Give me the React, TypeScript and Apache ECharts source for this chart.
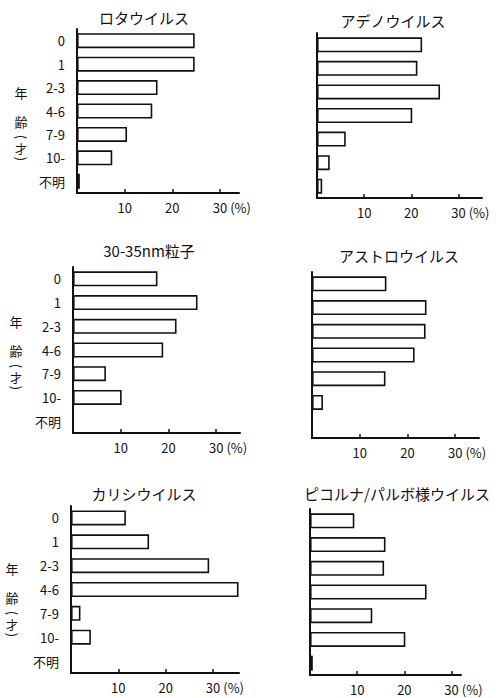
import React, { useEffect, useRef } from "react";
import * as echarts from "echarts";

const ages = ["0", "1", "2-3", "4-6", "7-9", "10-", "不明"];
const titles = [
  "ロタウイルス",
  "アデノウイルス",
  "30-35nm粒子",
  "アストロウイルス",
  "カリシウイルス",
  "ピコルナ/パルボ様ウイルス",
];
const rota = [24.7, 24.7, 16.9, 15.8, 10.5, 7.4, 0.6];
const adeno = [22.3, 21.3, 26.1, 20.2, 6.1, 2.7, 1.1];
const particle = [17.7, 26.1, 21.7, 18.9, 6.9, 10.2, 0];
const astro = [15.6, 24.0, 23.8, 21.5, 15.4, 2.3, 0];
const calici = [11.6, 16.5, 29.2, 35.4, 2.0, 4.2, 0];
const picorna = [9.4, 16.0, 15.7, 24.7, 13.2, 20.2, 0.6];
const xTicks = [10, 20, 30];
const ageTitle = ["年", "齢", "(", "才", ")"];

const seriesData = [rota, adeno, particle, astro, calici, picorna];

// layout of the six panels (pixels)
const panels = [
  { left: 77, top: 29, width: 162, height: 164, max: 34, tx: 144, ty: 17, ax: 21, ay: 92 },
  { left: 317, top: 33, width: 165, height: 165, max: 35, tx: 393, ty: 20 },
  { left: 73, top: 267, width: 167, height: 166, max: 35, tx: 149, ty: 250, ax: 16, ay: 321 },
  { left: 312, top: 272, width: 167, height: 166, max: 35, tx: 399, ty: 255 },
  { left: 71, top: 506, width: 168, height: 167, max: 35.5, tx: 144, ty: 493, ax: 12, ay: 568 },
  { left: 310, top: 509, width: 151, height: 166, max: 32, tx: 397, ty: 493 },
];

const FONT = "'Noto Sans CJK JP', 'Noto Sans', sans-serif";
const INK = "#111111";

export default function App() {
  const ref = useRef<HTMLDivElement>(null);
  useEffect(() => {
    if (!ref.current) return;
    const chart = echarts.init(ref.current, null, { renderer: "svg" });

    const grid = panels.map((p) => ({
      left: p.left,
      top: p.top,
      width: p.width,
      height: p.height,
      containLabel: false,
      outerBoundsMode: "none",
    }));

    const xAxis = panels.map((p, i) => ({
      type: "value",
      gridIndex: i,
      min: 0,
      max: p.max,
      splitLine: { show: false },
      axisLine: { show: true, lineStyle: { color: INK, width: 2 } },
      axisTick: {
        show: true,
        inside: true,
        length: 4,
        customValues: xTicks,
        lineStyle: { color: INK, width: 1.5 },
      },
      axisLabel: {
        customValues: xTicks,
        margin: 8,
        color: INK,
        fontSize: 13,
        fontFamily: FONT,
        formatter: (v: number) =>
          v === 30 ? "{s| }{n|30}{p| (%)}" : "{n|" + v + "}",
        rich: {
          n: { fontSize: 13, fontFamily: FONT, color: INK },
          s: { width: 24, fontSize: 13 },
          p: { width: 24, fontSize: 13, fontFamily: FONT, color: INK, align: "left" },
        },
      },
    }));

    const yAxis = panels.map((p, i) => ({
      type: "category",
      gridIndex: i,
      data: ages,
      inverse: true,
      axisLine: { show: true, lineStyle: { color: INK, width: 2 } },
      axisTick: { show: false },
      axisLabel: {
        show: i % 2 === 0,
        margin: 12,
        color: INK,
        fontSize: 13,
        fontFamily: FONT,
      },
    }));

    const series = seriesData.map((d, i) => ({
      type: "bar",
      xAxisIndex: i,
      yAxisIndex: i,
      data: d,
      barWidth: 15,
      silent: true,
      itemStyle: { color: "#ffffff", borderColor: INK, borderWidth: 1.6 },
    }));

    // vertical "年齢(才)" label: offsets and sizes of each character
    const offs = [0, 29, 45, 56, 67];
    const sizes = [13, 13, 13, 12, 13];

    const graphic: any[] = [];
    panels.forEach((p, i) => {
      graphic.push({
        type: "text",
        x: p.tx,
        y: p.ty,
        style: {
          text: titles[i],
          fontSize: 15,
          fontFamily: FONT,
          fill: INK,
          align: "center",
          verticalAlign: "middle",
          textAlign: "center",
          textVerticalAlign: "middle",
        },
      });
      if (p.ax !== undefined) {
        ageTitle.forEach((ch, k) => {
          const paren = ch === "(" || ch === ")";
          graphic.push({
            type: "text",
            x: p.ax,
            y: (p.ay as number) + offs[k],
            rotation: paren ? -Math.PI / 2 : 0,
            style: {
              text: ch,
              fontSize: sizes[k],
              fontFamily: FONT,
              fill: INK,
              align: "center",
              verticalAlign: "middle",
              textAlign: "center",
              textVerticalAlign: "middle",
            },
          });
        });
      }
    });

    chart.setOption({
      animation: false,
      backgroundColor: "#ffffff",
      grid,
      xAxis,
      yAxis,
      series,
      graphic,
    });
    return () => chart.dispose();
  }, []);
  return (
    <div
      ref={ref}
      style={{ position: "absolute", left: 0, top: 0, width: 500, height: 698 }}
    />
  );
}
